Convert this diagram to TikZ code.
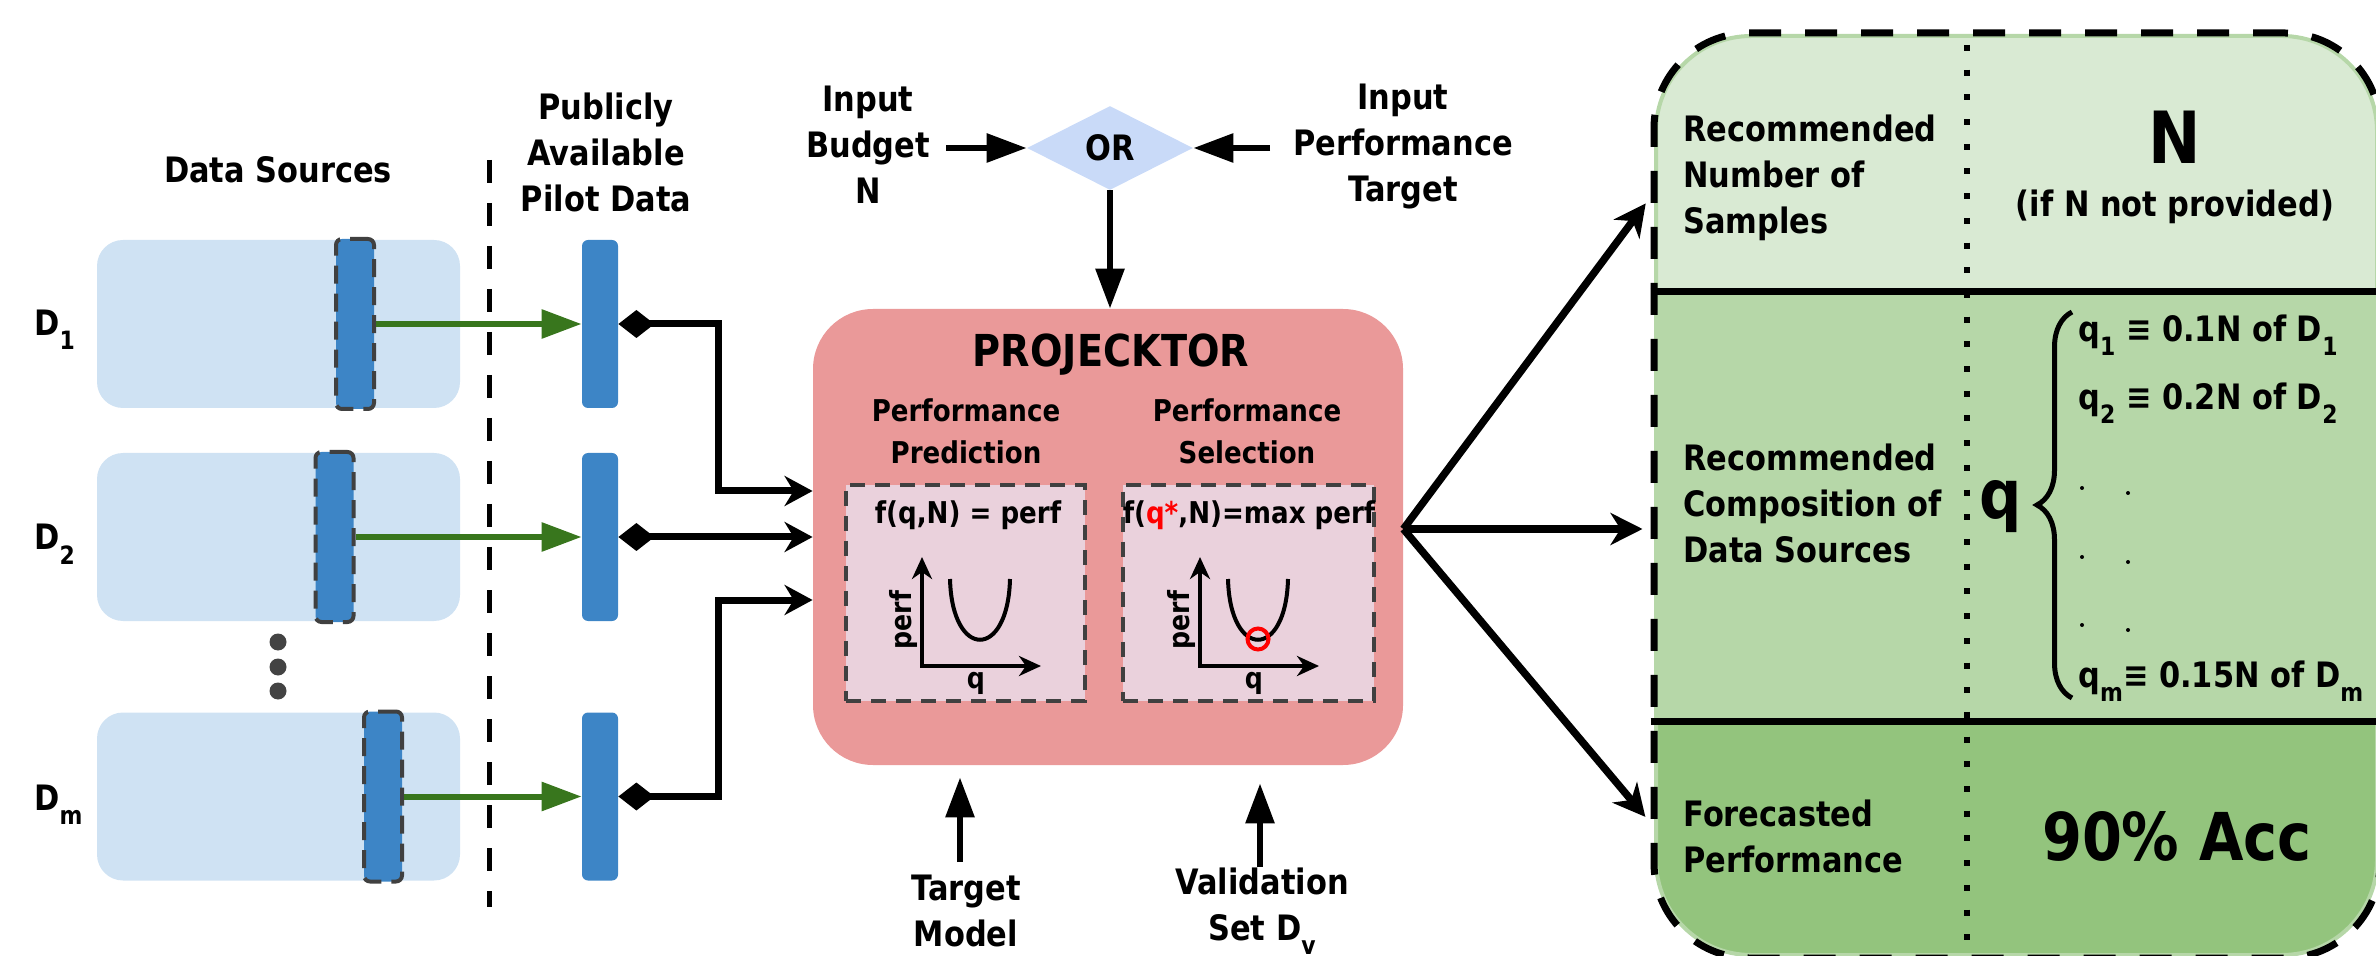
\documentclass[tikz,border=0pt]{standalone}
\usepackage{fontspec}
\setmainfont{DejaVu Sans}[FakeStretch=0.87]
\usepackage{graphicx}
\usetikzlibrary{arrows.meta,shapes.geometric,calc,decorations.pathreplacing}
\definecolor{srcfill}{HTML}{CFE2F3}
\definecolor{barblue}{HTML}{3D85C6}
\definecolor{bargray}{HTML}{404040}
\definecolor{garrowc}{HTML}{38761D}
\definecolor{orfill}{HTML}{C9DAF8}
\definecolor{projfill}{HTML}{EA9999}
\definecolor{innerfill}{HTML}{EAD1DC}
\definecolor{bandA}{HTML}{D9EAD3}
\definecolor{bandB}{HTML}{B6D7A8}
\definecolor{bandC}{HTML}{93C47D}
\definecolor{dotgray}{HTML}{434343}
\newcommand\sbs[1]{\raisebox{-0.4em}{\scalebox{0.72}{#1}}}
\begin{document}
\begin{tikzpicture}[x=0.5pt,y=-0.5pt,
  lbl/.style={font=\bfseries\fontsize{17.5}{23}\selectfont, align=center, inner sep=0pt},
  lbll/.style={font=\bfseries\fontsize{17.5}{23}\selectfont, align=left, inner sep=0pt, anchor=west},
  subhead/.style={font=\bfseries\fontsize{15}{21}\selectfont, align=center, inner sep=0pt},
  axlbl/.style={font=\bfseries\fontsize{14.5}{16}\selectfont, inner sep=0pt},
  srcbox/.style={fill=srcfill, rounded corners=13pt, minimum width=181.5pt, minimum height=84pt, inner sep=0pt},
  selbar/.style={fill=barblue, draw=bargray, line width=2pt, dash pattern=on 9pt off 5pt, rounded corners=3pt, minimum width=19pt, minimum height=85pt, inner sep=0pt},
  pilot/.style={fill=barblue, rounded corners=3pt, minimum width=18pt, minimum height=84pt, inner sep=0pt},
  garrow/.style={draw=garrowc, line width=3pt, -{Triangle[length=20pt,width=14pt]}},
  conn/.style={draw, line width=3.5pt, {Diamond[length=18pt,width=14pt]}-{Stealth[length=14pt,width=15pt,inset=4.5pt]}},
  barrow/.style={draw, line width=3pt, -{Triangle[length=20pt,width=14pt]}},
  sarrow/.style={draw, line width=3.75pt, -{Stealth[length=16pt,width=16pt,inset=5pt]}},
  axis/.style={draw, line width=2pt, {Stealth[length=11pt,width=10pt,inset=3.5pt]}-{Stealth[length=11pt,width=10pt,inset=3.5pt]}},
  innerbox/.style={fill=innerfill, draw=bargray, line width=2pt, dash pattern=on 7.5pt off 5pt, minimum height=108pt, inner sep=0pt},
  tabbox/.style={draw, line width=3.5pt, dash pattern=on 16pt off 12pt, rounded corners=47.5pt, minimum width=363pt, minimum height=462.5pt, inner sep=0pt},
  sepline/.style={draw, line width=3.5pt},
  dotline/.style={draw, line width=3pt, dash pattern=on 3pt off 9.35pt},
  sepdash/.style={draw, line width=2.5pt, dash pattern=on 11.5pt off 10pt}
]
\useasboundingbox (0,0) rectangle (2376,956);

% ---------------- left: data sources ----------------
\node[lbl] (dshead) at (278,170) {Data Sources};
\node[lbl] (pilothead) at (606,152) {Publicly\\Available\\Pilot Data};
\draw[sepdash] (489,160) -- (489,907);

\node[srcbox] (s1) at (278.5,324) {};
\node[srcbox] (s2) at (278.5,537) {};
\node[srcbox] (sm) at (278.5,796.5) {};

\node[selbar] (b1) at (355,324) {};
\node[selbar] (b2) at (334.5,537) {};
\node[selbar] (bm) at (383,796.5) {};

\node[pilot] (p1) at (600,324) {};
\node[pilot] (p2) at (600,537) {};
\node[pilot] (pm) at (600,796.5) {};

\node[lbl, anchor=base west] (d1) at (34,336) {D\sbs{1}};
\node[lbl, anchor=base west] (d2) at (34,550) {D\sbs{2}};
\node[lbl, anchor=base west] (dm) at (34,810) {D\sbs{m}};

\fill[dotgray] (278,642) circle (4.25pt);
\fill[dotgray] (278,667) circle (4.25pt);
\fill[dotgray] (278,691) circle (4.25pt);

\draw[garrow] (b1.east) -- (p1.west);
\draw[garrow] (b2.east) -- (p2.west);
\draw[garrow] (bm.east) -- (pm.west);

% ---------------- PROJECKTOR ----------------
\node[fill=projfill, rounded corners=30pt, minimum width=295pt, minimum height=228pt, inner sep=0pt] (proj) at (1108,537) {};
\node[font=\bfseries\fontsize{22}{26}\selectfont, inner sep=0pt] (ptitle) at (1111,355) {PROJECKTOR};
\node[subhead] (pp) at (966,431) {Performance\\Prediction};
\node[subhead] (ps) at (1247,431) {Performance\\Selection};
\node[innerbox, minimum width=119.5pt] (ib1) at (965.5,593) {};
\node[innerbox, minimum width=125.5pt] (ib2) at (1248.5,593) {};
\node[font=\bfseries\fontsize{15}{18}\selectfont, inner sep=0pt] (f1) at (968,515) {f(q,N) = perf};
\node[font=\bfseries\fontsize{15}{18}\selectfont, inner sep=0pt] (f2) at (1249,515) {f(\textcolor{red}{q*},N)=max perf};

\foreach \dx/\nm in {0/a,278/b}{
  \begin{scope}[shift={(\dx,0)}]
    \draw[axis] (922,557) -- (922,666) -- (1041,666);
    \draw[line width=2pt] (950,579) .. controls (952,660) and (1008,660) .. (1010,579);
    \node[axlbl, rotate=90] (perf\nm) at (903,620) {perf};
    \node[axlbl] (q\nm) at (976,683) {q};
  \end{scope}
}
\draw[red, line width=2pt] (1258,639) circle (5.25pt);

% inputs to PROJECKTOR
\draw[conn] (p1.east) -- ++(100,0) |- ($(proj.west)+(0,-46)$);
\draw[conn] (p2.east) -- (proj.west);
\draw[conn] (pm.east) -- ++(100,0) |- ($(proj.west)+(0,63)$);

% ---------------- top inputs ----------------
\node[lbl] (ib) at (868,145) {Input\\Budget\\N};
\node[lbl] (ip) at (1403,147) {Input\\Performance\\Target};
\node[diamond, fill=orfill, minimum width=83pt, minimum height=42pt, inner sep=0pt, font=\bfseries\fontsize{17.5}{20}\selectfont] (or) at (1110,148) {OR};
\coordinate (ibs) at (946,148);
\coordinate (ips) at (1270,148);
\draw[barrow] (ibs) -- (or.west);
\draw[barrow] (ips) -- (or.east);
\draw[barrow] (or.south) -- (or.south |- proj.north);

% ---------------- bottom inputs ----------------
\node[lbl] (tm) at (966,911) {Target\\Model};
\node[lbl] (vs) at (1262,911) {Validation\\Set D\sbs{v}};
\coordinate (tmt) at (960,862);
\coordinate (vst) at (1260,867);
\draw[barrow, shorten >=6pt] (tmt) -- (tmt |- proj.south);
\draw[barrow, shorten >=9pt] (vst) -- (vst |- proj.south);

% ---------------- output table ----------------
\begin{scope}
  \clip[rounded corners=47.5pt] (1656,36) rectangle (2377,955);
  \fill[bandA] (1640,20) rectangle (2390,292);
  \fill[bandB] (1640,292) rectangle (2390,721);
  \fill[bandC] (1640,721) rectangle (2390,970);
\end{scope}
\draw[bandB, line width=2pt, rounded corners=47.5pt] (1656,36) rectangle (2377,955);
\node[tabbox] (tab) at (2017,495.5) {};
\draw[sepline] (tab.west |- 0,292) -- (tab.east |- 0,292);
\draw[sepline] (tab.west |- 0,721) -- (tab.east |- 0,721);
\draw[dotline] (1967,45) -- (1967,958);

\node[lbll] (t1) at (1683,178) {Recommended\\Number of\\Samples};
\node[lbll] (t2) at (1683,503) {Recommended\\Composition of\\Data Sources};
\node[lbll] (t3) at (1683,836) {Forecasted\\Performance};

\node[font=\bfseries\fontsize{36}{40}\selectfont, inner sep=0pt] (nbig) at (2175,137) {N};
\node[lbl] (nnote) at (2175,207) {(if N not provided)};

\node[font=\bfseries\fontsize{34}{36}\selectfont, inner sep=0pt] (qbig) at (2001,507) {q};
\draw[decorate, decoration={brace, amplitude=17.5pt}, line width=2.5pt] (2072,698) -- (2072,312);
\node[lbl, anchor=base west] (q1) at (2078,342) {q\sbs{1} ≡ 0.1N of D\sbs{1}};
\node[lbl, anchor=base west] (q2) at (2078,410) {q\sbs{2} ≡ 0.2N of D\sbs{2}};
\node[lbl, anchor=base west] (qm) at (2078,687) {q\sbs{m}≡ 0.15N of D\sbs{m}};
\foreach \yy in {488,557,625}{
  \fill (2082,\yy) circle (1pt);
  \fill (2128,\yy+5) circle (1pt);
}
\node[font=\bfseries\fontsize{33}{36}\selectfont, inner sep=0pt] (acc) at (2177,836) {90\% Acc};

% fan of outputs
\coordinate (fan) at ($(proj.east)+(0,-8)$);
\draw[sarrow, shorten >=4pt] (fan) -- (tab.west |- 0,197);
\draw[sarrow, shorten >=4pt] (fan) -- (tab.west |- 0,529);
\draw[sarrow, shorten >=4pt] (fan) -- (tab.west |- 0,823);
\end{tikzpicture}
\end{document}
